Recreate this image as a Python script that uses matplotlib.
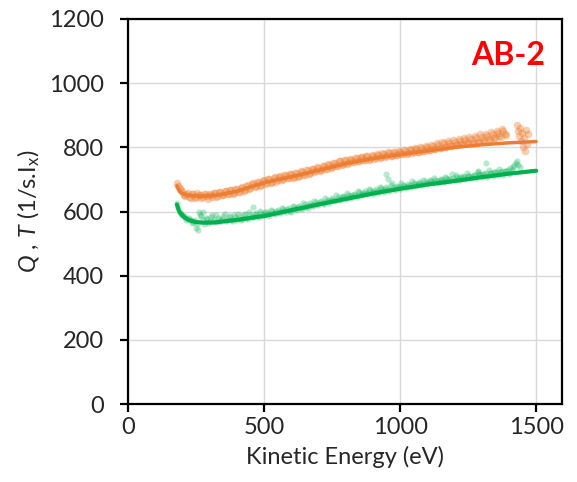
import matplotlib
matplotlib.use("Agg")
import matplotlib.pyplot as plt

plt.rcParams["font.family"] = ["Lato", "DejaVu Sans"]
plt.rcParams["mathtext.fontset"] = "custom"
plt.rcParams["mathtext.rm"] = "Lato"
plt.rcParams["mathtext.it"] = "Lato:italic"

# Measured Q points (orange), energy grid 180..1390 eV in 10 eV steps
q_energy = list(range(180, 1400, 10))
q_values = [
    688, 672, 660, 648, 657, 643, 655, 646, 652, 641, 656, 647, 653, 644, 658, 649,
    661, 652, 664, 655, 668, 659, 671, 662, 676, 667, 682, 673, 688, 679, 692, 683,
    697, 689, 701, 692, 706, 697, 710, 700, 714, 704, 716, 707, 719, 711, 724, 714,
    728, 719, 733, 725, 737, 729, 742, 733, 746, 738, 752, 743, 757, 748, 759, 751,
    762, 754, 766, 758, 769, 761, 772, 763, 774, 766, 777, 769, 780, 772, 783, 774,
    785, 776, 787, 779, 790, 781, 793, 784, 795, 787, 797, 789, 800, 792, 803, 795,
    807, 798, 812, 801, 815, 804, 818, 808, 820, 810, 823, 813, 826, 815, 829, 818,
    832, 821, 836, 824, 840, 828, 844, 832, 850, 838,
]
# Interleaved Q points, energy grid 185..1385 eV
q_energy_b = list(range(185, 1390, 10))
q_values_b = [
    678, 668, 651, 655, 646, 653, 642, 657, 650, 645, 654, 639, 652, 657, 646, 660,
    650, 663, 653, 666, 656, 670, 660, 674, 664, 681, 670, 686, 676, 691, 681, 694,
    686, 700, 690, 705, 693, 709, 698, 713, 703, 717, 705, 720, 709, 725, 713, 729,
    718, 734, 722, 738, 727, 743, 731, 748, 736, 752, 741, 757, 746, 761, 749, 764,
    753, 767, 756, 770, 759, 773, 762, 775, 765, 778, 768, 781, 770, 784, 772, 787,
    775, 789, 778, 792, 780, 795, 783, 798, 786, 801, 788, 804, 791, 808, 794, 812,
    797, 816, 800, 819, 803, 823, 806, 826, 809, 829, 812, 833, 815, 836, 818, 840,
    822, 843, 826, 848, 830, 852, 834, 858, 840,
]
# High-energy Q cluster
q_tail_energy = [1428, 1432, 1436, 1440, 1444, 1448, 1452, 1456, 1460, 1464, 1468, 1470]
q_tail_values = [870, 850, 835, 860, 820, 845, 800, 830, 790, 855, 810, 840]

# Measured T points (green), energy grid 180..1440 eV in 10 eV steps
t_energy = list(range(180, 1450, 10))
t_values = [
    628, 600, 590, 583, 577, 572, 566, 548, 600, 585, 562, 578, 570, 588, 566, 580,
    572, 585, 569, 582, 575, 590, 572, 586, 578, 592, 576, 589, 583, 596, 582, 594,
    588, 600, 586, 602, 592, 606, 594, 608, 598, 612, 600, 614, 604, 618, 608, 622,
    612, 626, 616, 630, 620, 634, 624, 637, 628, 641, 632, 645, 636, 649, 640, 652,
    643, 656, 646, 660, 650, 663, 653, 666, 656, 670, 659, 672, 662, 675, 665, 690,
    668, 680, 671, 683, 674, 686, 677, 689, 680, 692, 683, 694, 686, 697, 688, 699,
    690, 702, 692, 704, 694, 716, 697, 708, 699, 710, 701, 712, 703, 714, 705, 716,
    707, 718, 709, 720, 711, 722, 713, 724, 715, 726, 717, 730, 745, 758, 738,
]
# Interleaved T points, energy grid 185..1435 eV
t_energy_b = list(range(185, 1440, 10))
t_values_b = [
    612, 592, 585, 574, 580, 565, 575, 560, 590, 572, 580, 564, 583, 575, 590, 568,
    578, 592, 574, 586, 570, 583, 591, 575, 588, 580, 598, 584, 593, 586, 601, 589,
    597, 591, 606, 595, 603, 598, 612, 601, 608, 603, 618, 607, 614, 611, 626, 615,
    621, 620, 634, 624, 629, 628, 642, 632, 637, 636, 650, 640, 644, 644, 657, 647,
    651, 651, 664, 654, 658, 658, 670, 661, 664, 665, 676, 667, 670, 671, 682, 673,
    676, 677, 688, 679, 681, 683, 694, 685, 687, 689, 699, 690, 692, 694, 704, 695,
    697, 699, 709, 700, 702, 704, 714, 705, 707, 709, 719, 710, 712, 714, 724, 715,
    717, 719, 729, 720, 722, 724, 733, 725, 727, 729, 736, 740, 752, 746,
]
t_extra_energy = [256, 275, 458, 950, 955, 1286, 1315]
t_extra_values = [543, 600, 615, 717, 700, 725, 752]

# Fitted curves
q_fit_energy = [180, 185, 190, 200, 215, 240, 280, 330, 400, 500, 600, 700, 800,
                900, 1000, 1100, 1200, 1300, 1400, 1500]
q_fit_values = [680, 670, 662, 656, 652, 649, 648, 651, 663, 690, 708, 728, 749,
                765, 777, 789, 800, 808, 814, 818]
t_fit_energy = [180, 185, 190, 200, 210, 225, 250, 280, 320, 400, 500, 600, 700,
                800, 900, 1000, 1100, 1200, 1300, 1400, 1500]
t_fit_values = [622, 608, 598, 588, 580, 573, 567, 565, 566, 574, 586, 604, 622,
                639, 656, 671, 684, 695, 707, 718, 727]

orange = "#ED7D31"
green = "#00B050"

fig = plt.figure(figsize=(5.77, 4.82), dpi=100)
ax = fig.add_axes([0.2218, 0.1618, 0.7522, 0.7988])

green_pts = dict(ls="none", marker="o", color=green, ms=4.5, alpha=0.28, mec="none")
orange_pts = dict(ls="none", marker="o", color=orange, ms=5.5, alpha=0.38, mec="none")

ax.plot(t_energy, t_values, **green_pts)
ax.plot(t_energy_b, t_values_b, **green_pts)
ax.plot(t_extra_energy, t_extra_values, **green_pts)
ax.plot(q_energy, q_values, **orange_pts)
ax.plot(q_energy_b, q_values_b, **orange_pts)
ax.plot(q_tail_energy, q_tail_values, **orange_pts)

ax.plot(q_fit_energy, q_fit_values, color=orange, lw=2.5, solid_capstyle="round")
ax.plot(t_fit_energy, t_fit_values, color=green, lw=3, solid_capstyle="round")

ax.set_xlim(0, 1595)
ax.set_ylim(0, 1200)
ax.set_xticks([0, 500, 1000, 1500])
ax.set_yticks(range(0, 1201, 200))
ax.grid(True, color="#d9d9d9", lw=1)
ax.set_axisbelow(True)

for s in ax.spines.values():
    s.set_color("black")
    s.set_linewidth(1.6)

ax.tick_params(axis="both", direction="out", length=6, width=1.6, colors="black",
               labelsize=17, labelcolor="#262626")
ax.tick_params(axis="y", pad=11)
ax.tick_params(axis="x", pad=3)

ax.set_xlabel("Kinetic Energy (eV)", fontsize=17, color="#262626", labelpad=6)
ax.set_ylabel(r"$\mathit{Q}$ , $\mathit{T}$ (1/s.I$_\mathregular{x}$)", fontsize=17,
              color="#262626", labelpad=5)

ax.text(0.961, 0.905, "AB-2", transform=ax.transAxes, ha="right", va="center",
        color="#FF0000", fontsize=23, fontweight="bold")

fig.savefig("out.png", dpi=100)
